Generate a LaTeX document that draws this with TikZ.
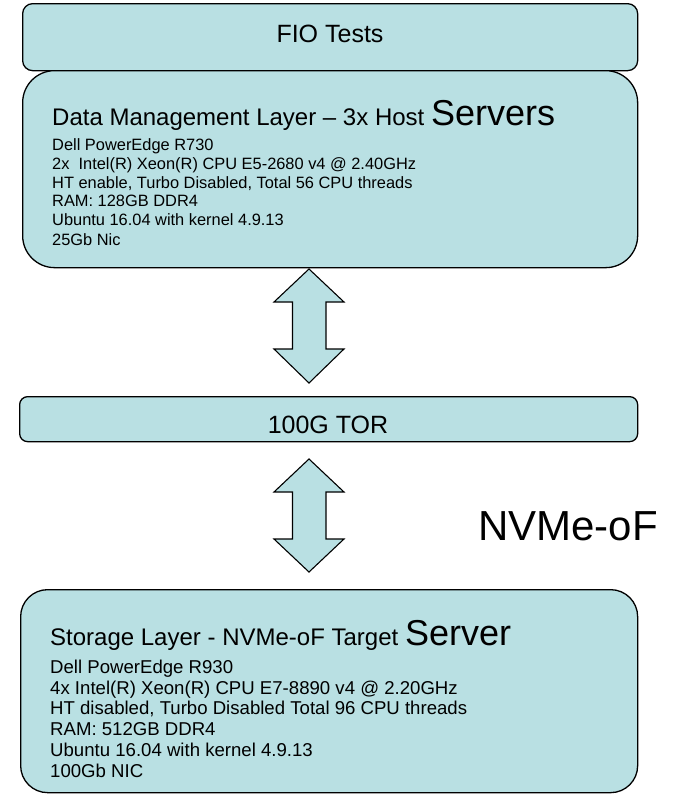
\documentclass[tikz,border=0pt]{standalone}
\usepackage{fontspec}
\setmainfont{Liberation Sans}
\definecolor{boxfill}{RGB}{185,224,227}
\tikzset{
  layerbox/.style={draw=black, line width=1.3pt, fill=boxfill, inner sep=0pt, anchor=north west},
  blockarrow/.style={draw=black, line width=1.1pt, fill=boxfill, line join=miter},
  detail/.style={anchor=base west, inner sep=0pt, font=\fontsize{16.4}{19}\selectfont},
  sdetail/.style={anchor=base west, inner sep=0pt, font=\fontsize{18.6}{20}\selectfont},
  titletext/.style={anchor=base west, inner sep=0pt, font=\fontsize{24}{28}\selectfont},
}
\begin{document}
\begin{tikzpicture}[x=1pt, y=-1pt]
\useasboundingbox (0,0) rectangle (677,795);

% boxes
\node[layerbox, minimum width=615pt, minimum height=67pt, rounded corners=10pt] (fio) at (22,3) {};
\node[font=\fontsize{25}{30}\selectfont, inner sep=0pt, anchor=base] (fiot) at (330,42) {FIO Tests};
\node[layerbox, minimum width=615pt, minimum height=197pt, rounded corners=32pt] (dm) at (22,70) {};
\node[layerbox, minimum width=618pt, minimum height=45pt, rounded corners=8pt] (tor) at (19,396) {};
\node[font=\fontsize{25}{30}\selectfont, inner sep=0pt, anchor=base] (tort) at (328,433) {100G TOR};
\node[layerbox, minimum width=617pt, minimum height=203pt, rounded corners=27pt] (st) at (20,589) {};

% data management text
\node[titletext] (dmt) at (52,125) {Data Management Layer – 3x Host {\fontsize{36}{40}\selectfont Servers}};
\node[detail] (d1) at (52,150) {Dell PowerEdge R730};
\node[detail] (d2) at (52,169) {2x\ \ Intel(R) Xeon(R) CPU E5-2680 v4 @ 2.40GHz};
\node[detail] (d3) at (52,188) {HT enable, Turbo Disabled, Total 56 CPU threads};
\node[detail] (d4) at (52,206) {RAM: 128GB DDR4};
\node[detail] (d5) at (52,225) {Ubuntu 16.04 with kernel 4.9.13};
\node[detail] (d6) at (52,245) {25Gb Nic};

% storage text
\node[titletext] (stt) at (50,645) {Storage Layer - NVMe-oF Target {\fontsize{36}{40}\selectfont Server}};
\node[sdetail] (s1) at (50,673) {Dell PowerEdge R930};
\node[sdetail] (s2) at (50,694) {4x Intel(R) Xeon(R) CPU E7-8890 v4 @ 2.20GHz};
\node[sdetail] (s3) at (50,714) {HT disabled, Turbo Disabled Total 96 CPU threads};
\node[sdetail] (s4) at (50,735) {RAM: 512GB DDR4};
\node[sdetail] (s5) at (50,756) {Ubuntu 16.04 with kernel 4.9.13};
\node[sdetail] (s6) at (50,777) {100Gb NIC};

% NVMe-oF label
\node[anchor=base west, inner sep=0pt, font=\fontsize{42}{48}\selectfont] (nv) at (478,540) {NVMe-oF};

% block arrows
\draw[blockarrow] (309,269) -- (344,302) -- (326,302) -- (326,349) -- (344,349) -- (309,383)
  -- (274,349) -- (292.5,349) -- (292.5,302) -- (274,302) -- cycle;
\draw[blockarrow] (309,459) -- (344,492) -- (326,492) -- (326,539) -- (344,539) -- (309,572)
  -- (274,539) -- (292.5,539) -- (292.5,492) -- (274,492) -- cycle;
\end{tikzpicture}
\end{document}
